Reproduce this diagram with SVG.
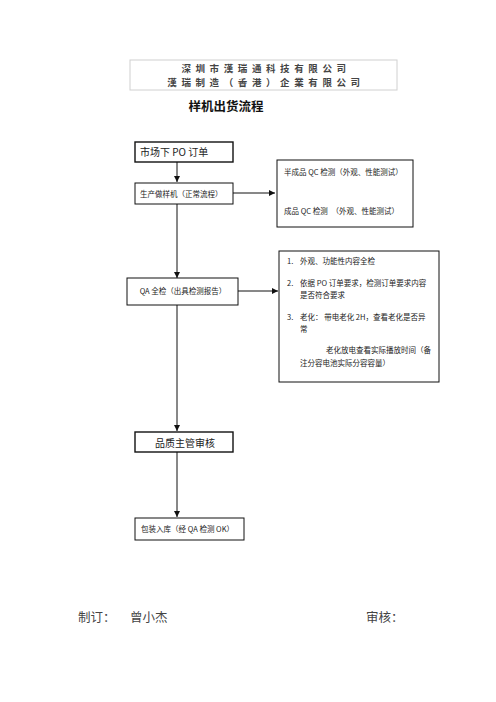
<svg xmlns="http://www.w3.org/2000/svg" width="496" height="702" viewBox="0 0 496 702">
<style>
text{font-family:"Noto Sans CJK SC","Liberation Sans",sans-serif;fill:#222}
.bx{fill:#fff;stroke:#111;stroke-width:1}
.bxt{fill:#fff;stroke:#111;stroke-width:1.4}
.s{font-size:7.5px}
.m{font-size:10px}
.hd{font-size:9.5px;font-weight:bold;fill:#444;letter-spacing:4.6px}
.ft{font-size:12.5px;fill:#444}
.ln{stroke:#111;stroke-width:1;fill:none;marker-end:url(#ah)}
</style>
<defs>
<marker id="ah" viewBox="0 0 8 8" refX="8" refY="4" markerWidth="6" markerHeight="6" markerUnits="userSpaceOnUse" orient="auto">
<path d="M0,0 L8,4 L0,8 z" fill="#111"/>
</marker>
</defs>
<rect width="496" height="702" fill="#fff"/>
<g id="header">
<rect x="130" y="60" width="267" height="30" fill="#fff" stroke="#d0d0d0" stroke-width="1"/>
<text class="hd" x="266" y="72" text-anchor="middle">深圳市漢瑞通科技有限公司</text>
<text class="hd" x="266" y="86" text-anchor="middle">漢瑞制造（香港）企業有限公司</text>
</g>
<g id="title"><text x="226" y="111" text-anchor="middle" style="font-size:12.5px;font-weight:bold;fill:#111">样机出货流程</text></g>
<g id="connectors">
<line class="ln" x1="177" y1="162" x2="177" y2="182"/>
<line class="ln" x1="233" y1="193" x2="275" y2="193"/>
<line class="ln" x1="177" y1="204" x2="177" y2="278"/>
<line class="ln" x1="238" y1="291" x2="278" y2="291"/>
<line class="ln" x1="177" y1="305" x2="177" y2="431"/>
<line class="ln" x1="177" y1="452" x2="177" y2="517"/>
</g>
<g id="n1"><rect class="bxt" x="135" y="142" width="98" height="20"/><text class="m" x="140" y="156">市场下 PO 订单</text></g>
<g id="n2"><rect class="bx" x="135" y="183" width="98" height="21"/><text class="s" x="140" y="196.5">生产做样机（正常流程）</text></g>
<g id="n3"><rect class="bx" x="277" y="160" width="136" height="67"/>
<text class="s" x="284" y="175">半成品 QC 检测（外观、性能测试）</text>
<text class="s" x="284" y="214">成品 QC 检测　（外观、性能测试）</text></g>
<g id="n4"><rect class="bx" x="127" y="278" width="111" height="27"/><text class="s" x="183" y="294" text-anchor="middle">QA 全检（出具检测报告）</text></g>
<g id="n5"><rect class="bx" x="279" y="251" width="160" height="131"/>
<text class="s" x="287" y="264">1.</text><text class="s" x="300" y="264">外观、功能性内容全检</text>
<text class="s" x="287" y="286">2.</text><text class="s" x="300" y="286">依据 PO 订单要求，检测订单要求内容</text>
<text class="s" x="300" y="298">是否符合要求</text>
<text class="s" x="287" y="320">3.</text><text class="s" x="300" y="320">老化：  带电老化 2H，查看老化是否异</text>
<text class="s" x="300" y="332">常</text>
<text class="s" x="326" y="353">老化放电查看实际播放时间（备</text>
<text class="s" x="300" y="366">注分容电池实际分容容量）</text></g>
<g id="n6"><rect class="bxt" x="135" y="432" width="98" height="20"/><text class="m" x="185" y="446.5" text-anchor="middle">品质主管审核</text></g>
<g id="n7"><rect class="bx" x="135" y="518" width="109" height="22"/><text class="s" x="141" y="532">包装入库（经 QA 检测 OK）</text></g>
<g id="footer">
<text class="ft" x="78" y="622">制订：</text>
<text class="ft" x="130" y="622">曾小杰</text>
<text class="ft" x="366" y="622">审核：</text>
</g>
</svg>
